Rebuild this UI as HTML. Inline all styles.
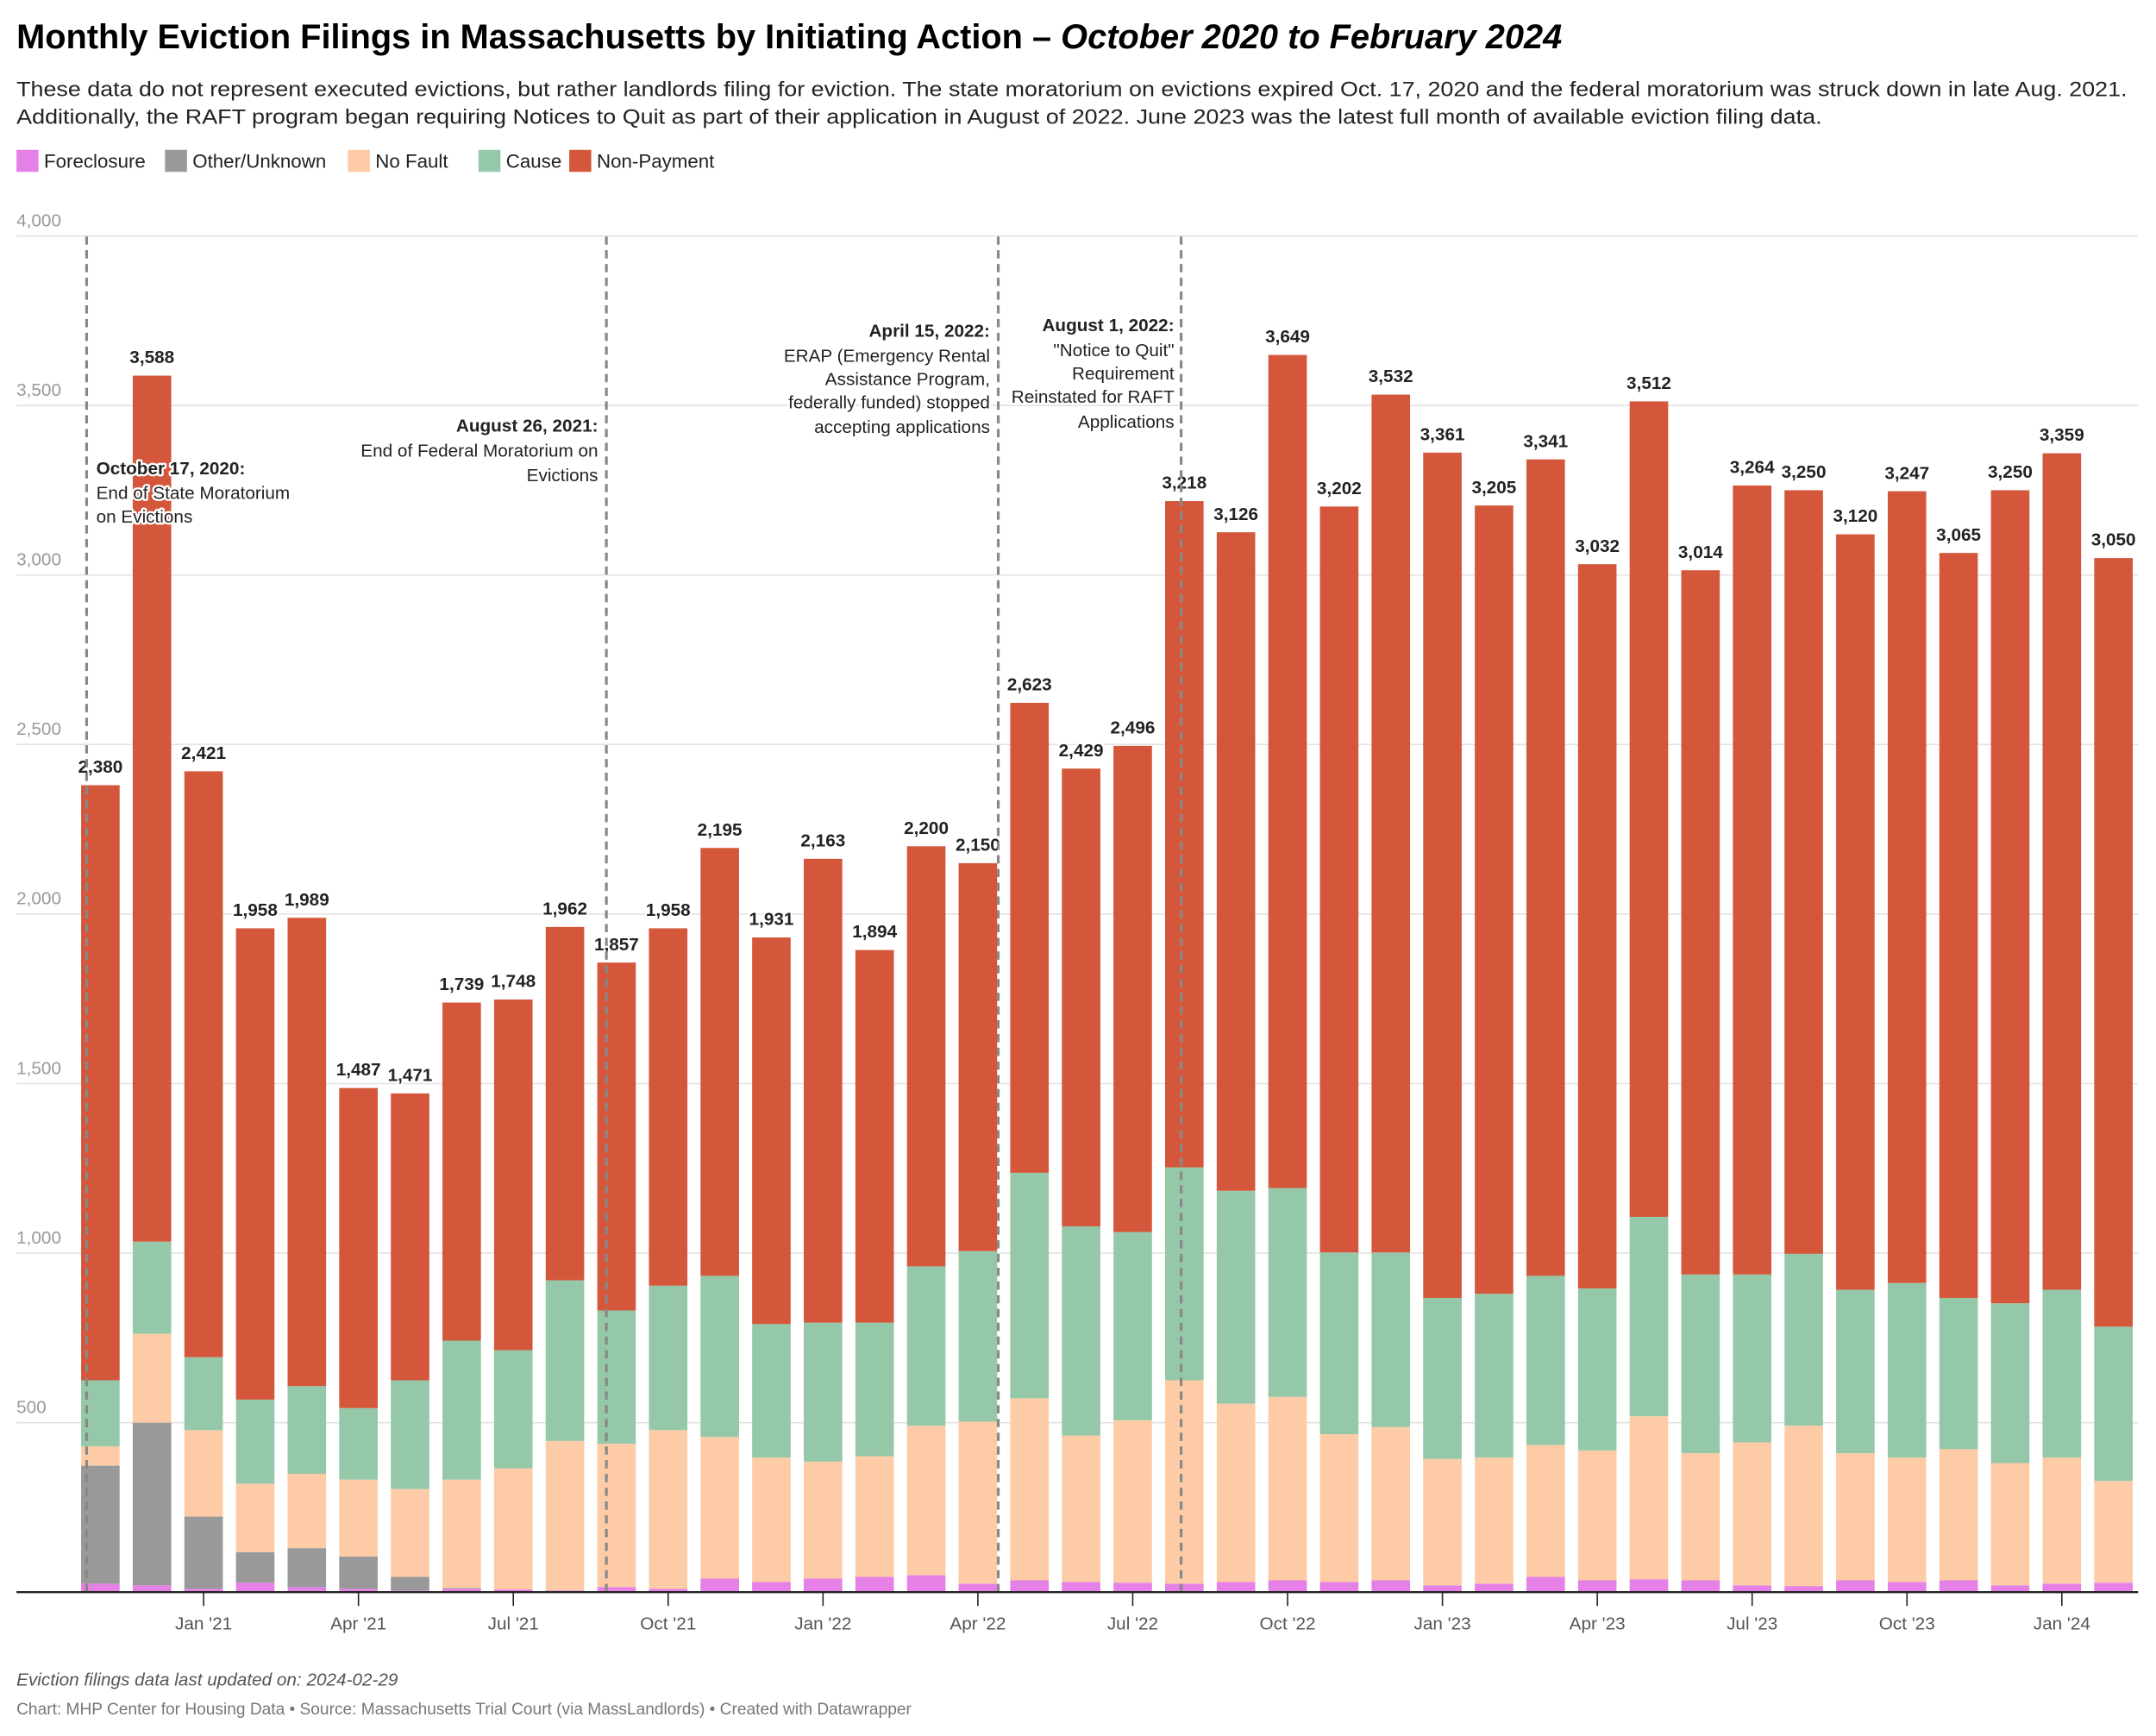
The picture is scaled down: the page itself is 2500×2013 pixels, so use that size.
<!DOCTYPE html>
<html><head><meta charset="utf-8"><style>
html,body{margin:0;padding:0;background:#fff;}
svg{display:block;font-family:"Liberation Sans",sans-serif;}
.halo{paint-order:stroke;stroke:#fff;stroke-width:3px;stroke-linejoin:round;}
</style></head><body>
<svg id="chart" width="2500" height="2013" viewBox="0 0 1568 1262.6" preserveAspectRatio="none" xmlns="http://www.w3.org/2000/svg">
<text x="12" y="35" font-size="25" font-weight="bold" fill="#000" textLength="1124" lengthAdjust="spacingAndGlyphs">Monthly Eviction Filings in Massachusetts by Initiating Action – <tspan font-style="italic">October 2020 to February 2024</tspan></text>
<text x="12" y="70" font-size="15" fill="#222" textLength="1535" lengthAdjust="spacingAndGlyphs">These data do not represent executed evictions, but rather landlords filing for eviction. The state moratorium on evictions expired Oct. 17, 2020 and the federal moratorium was struck down in late Aug. 2021.</text>
<text x="12" y="90" font-size="15" fill="#222" textLength="1313" lengthAdjust="spacingAndGlyphs">Additionally, the RAFT program began requiring Notices to Quit as part of their application in August of 2022. June 2023 was the latest full month of available eviction filing data.</text>
<g id="legend"></g>
<g id="grid"></g>
<g id="bars"></g>
<g id="labels"></g>
<g id="annot"></g>
<g id="xaxis"></g>
<text x="12" y="1226" font-size="13" font-style="italic" fill="#555">Eviction filings data last updated on: 2024-02-29</text>
<text x="12" y="1247" font-size="12" fill="#777">Chart: MHP Center for Housing Data • Source: Massachusetts Trial Court (via MassLandlords) • Created with Datawrapper</text>
</svg>
<script>
const totals=[2380,3588,2421,1958,1989,1487,1471,1739,1748,1962,1857,1958,2195,1931,2163,1894,2200,2150,2623,2429,2496,3218,3126,3649,3202,3532,3361,3205,3341,3032,3512,3014,3264,3250,3120,3247,3065,3250,3359,3050];
const foreclosure=[25,20,10,28,15,10,5,10,8,5,15,10,40,30,40,45,50,25,35,30,28,25,30,35,30,35,20,25,45,35,38,35,20,18,35,30,35,20,25,28];
const otherUnknown=[348,480,213,90,115,95,40,2,0,0,0,0,0,0,0,0,0,0,0,0,0,0,0,0,0,0,0,0,0,0,0,0,0,0,0,0,0,0,0,0];
const noFault=[57,262,255,202,219,227,259,320,357,441,423,468,418,367,345,356,441,478,537,432,479,600,526,541,436,452,373,372,389,383,481,375,422,473,375,367,387,361,372,300];
const cause=[195,272,215,248,259,211,321,410,349,474,393,426,475,394,410,394,470,503,665,617,555,628,628,616,536,515,475,483,499,478,588,527,495,507,482,515,446,471,495,455];
const seriesNames=["Foreclosure","Other/Unknown","No Fault","Cause","Non-Payment"];
const colors=["#e580e6","#999999","#fdcba6","#95c8a8","#d4573b"];
const yTicks=[500,1000,1500,2000,2500,3000,3500,4000];
const xTickLabels=["Jan '21","Apr '21","Jul '21","Oct '21","Jan '22","Apr '22","Jul '22","Oct '22","Jan '23","Apr '23","Jul '23","Oct '23","Jan '24"];
const xTickIndex=[2,5,8,11,14,17,20,23,26,29,32,35,38];

const NS="http://www.w3.org/2000/svg";
const y0=1158,yTop=171.6,x0=73,step=37.54,bw=28;
const y=v=>y0-(v/4000)*(y0-yTop);
const x=i=>x0+i*step;
function mk(tag,attrs,parent,text){const e=document.createElementNS(NS,tag);for(const k in attrs)e.setAttribute(k,attrs[k]);if(text!==undefined)e.textContent=text;parent.appendChild(e);return e;}
const fmt=v=>v.toLocaleString('en-US');

// legend
const lg=document.getElementById('legend');
const lgx=[12,120,253,348,414];
seriesNames.forEach((n,i)=>{
  const r=mk('rect',{x:lgx[i],y:109,width:16,height:16,fill:colors[i]},lg);
  
  
  const t=mk('text',{x:lgx[i]+20,y:122,'font-size':14,fill:'#222'},lg,n);
  
  
});

// grid
const g=document.getElementById('grid');
yTicks.forEach(v=>{
  const l=mk('line',{x1:12,x2:1555,y1:y(v),y2:y(v),stroke:'#e2e2e2','stroke-width':1},g);
  
  
  const t=mk('text',{x:12,y:y(v)-7,'font-size':13,fill:'#999'},g,fmt(v));
  
  
});

// bars
const bg=document.getElementById('bars');
const lb=document.getElementById('labels');
totals.forEach((tot,i)=>{
  const segs=[foreclosure[i],otherUnknown[i],noFault[i],cause[i]];
  const np=tot-segs.reduce((a,b)=>a+b,0);
  segs.push(np);
  let acc=0;
  segs.forEach((v,k)=>{
    if(v<=0)return;
    const r=mk('rect',{x:x(i)-bw/2,y:y(acc+v),width:bw,height:y(acc)-y(acc+v),fill:colors[k]},bg);
    
    
    acc+=v;
  });
  const t=mk('text',{x:x(i),y:y(tot)-9,'font-size':13,'font-weight':'bold','text-anchor':'middle',fill:'#222',class:'halo'},lb,fmt(tot));
  
  
});

// annotations
const an=document.getElementById('annot');
const notes=[
 {x:63,anchor:'start',tx:70,lines:[["October 17, 2020:",345,1],["End of State Moratorium",363,0],["on Evictions",380,0]]},
 {x:441,anchor:'end',tx:435,lines:[["August 26, 2021:",314,1],["End of Federal Moratorium on",332,0],["Evictions",350,0]]},
 {x:726,anchor:'end',tx:720,lines:[["April 15, 2022:",245,1],["ERAP (Emergency Rental",263,0],["Assistance Program,",280,0],["federally funded) stopped",297,0],["accepting applications",315,0]]},
 {x:859,anchor:'end',tx:854,lines:[["August 1, 2022:",241,1],["\"Notice to Quit\"",259,0],["Requirement",276,0],["Reinstated for RAFT",293,0],["Applications",311,0]]}
];
notes.forEach((n,j)=>{
  const l=mk('line',{x1:n.x,x2:n.x,y1:172,y2:1158,stroke:'#888','stroke-width':2,'stroke-dasharray':'6,4'},an);
  
  
  n.lines.forEach(([s,yy,b])=>{
    const t=mk('text',{x:n.tx,y:yy,'font-size':13,'font-weight':b?'bold':'normal','text-anchor':n.anchor,fill:'#222',class:'halo'},an,s);
    
    
  });
});

// x axis
const xa=document.getElementById('xaxis');
const base=mk('line',{x1:12,x2:1555,y1:y0,y2:y0,stroke:'#222','stroke-width':1.5},xa);


xTickLabels.forEach((s,k)=>{
  const xx=x(xTickIndex[k]);
  const tk=mk('line',{x1:xx,x2:xx,y1:y0,y2:y0+10,stroke:'#222','stroke-width':1},xa);
  
  
  const t=mk('text',{x:xx,y:1185,'font-size':13,'text-anchor':'middle',fill:'#555'},xa,s);
  
  
});
</script>
</body></html>
